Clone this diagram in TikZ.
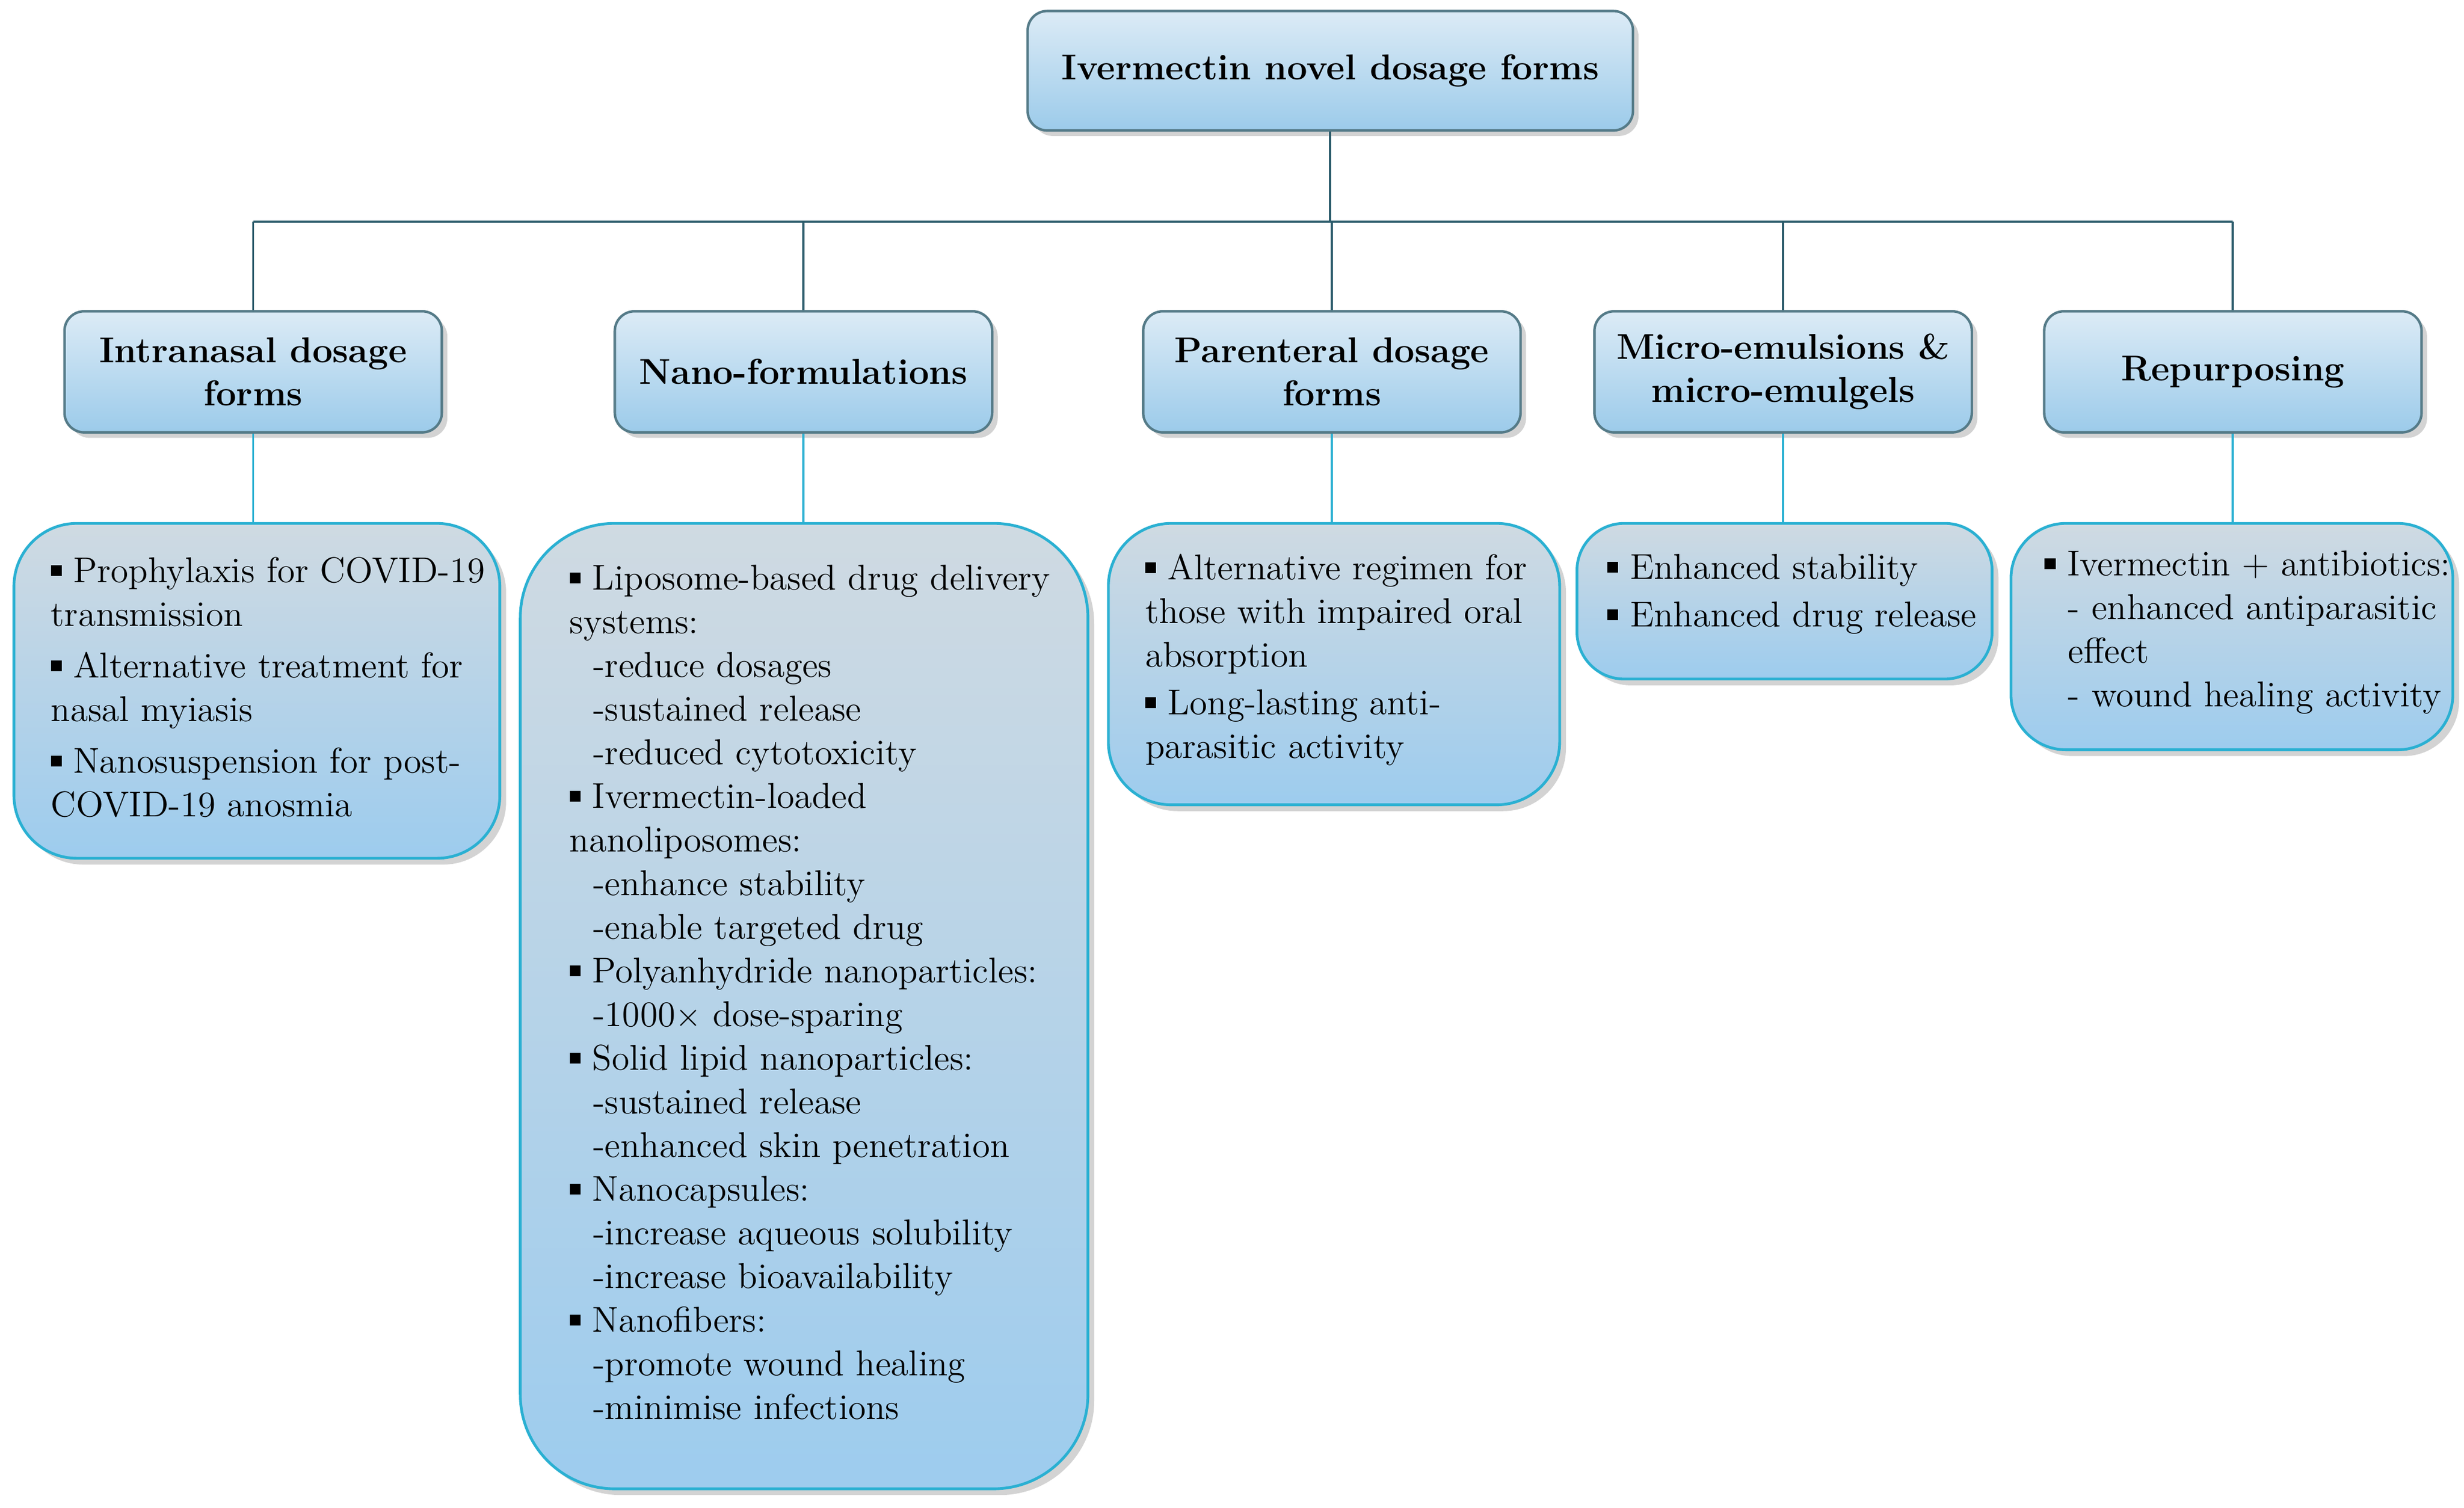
\documentclass[tikz,border=0pt]{standalone}
\usetikzlibrary{shadows,calc}
\definecolor{dk}{HTML}{2A5A6A}
\definecolor{cy}{HTML}{2AB0D2}
\definecolor{hdtop}{HTML}{DCEBF6}
\definecolor{hdbot}{HTML}{9CCBEA}
\definecolor{bxtop}{HTML}{CFDAE2}
\definecolor{bxbot}{HTML}{9DCCEE}
\newcommand{\bul}{\raisebox{0.18em}{\rule{0.3em}{0.3em}}\ }
\tikzset{
 hd/.style={draw=dk!80, line width=0.9pt, rounded corners=0.25cm, top color=hdtop, bottom color=hdbot,
   drop shadow={opacity=0.35, shadow xshift=0.07cm, shadow yshift=-0.07cm},
   align=center, font=\fontsize{13}{15.6}\selectfont\bfseries, inner sep=0pt},
 lvl/.style={hd, minimum width=4.8cm, minimum height=1.54cm},
 bx/.style={draw=cy, line width=1pt, top color=bxtop, bottom color=bxbot,
   drop shadow={opacity=0.35, shadow xshift=0.08cm, shadow yshift=-0.08cm}, inner sep=0pt},
 txt/.style={anchor=north west, align=left, inner sep=0pt, font=\fontsize{13}{15.8}\selectfont},
 ldk/.style={draw=dk, line width=0.8pt},
 lcy/.style={draw=cy, line width=0.8pt}
}
\begin{document}
\begin{tikzpicture}
\useasboundingbox (0,0) rectangle (31.34,-19.18);
\node[hd, minimum width=7.7cm, minimum height=1.52cm] (top) at (16.92,-0.90) {Ivermectin novel dosage forms};
\node[lvl] (l1) at (3.22,-4.73) {Intranasal dosage\\forms};
\node[lvl] (l2) at (10.22,-4.73) {Nano-formulations};
\node[lvl] (l3) at (16.94,-4.73) {Parenteral dosage\\forms};
\node[lvl] (l4) at (22.68,-4.73) {Micro-emulsions \&\\micro-emulgels};
\node[lvl] (l5) at (28.40,-4.73) {Repurposing};

\coordinate (h0) at (16.92,-2.82);
\coordinate (h1) at (l1.north |- h0);
\coordinate (h2) at (l2.north |- h0);
\coordinate (h3) at (l3.north |- h0);
\coordinate (h4) at (l4.north |- h0);
\coordinate (h5) at (l5.north |- h0);
\draw[ldk] (top.south) -- (h0);
\draw[ldk] (h1) -- (h5);
\foreach \i in {1,...,5} \draw[ldk] (h\i) -- (l\i.north);

\node[bx, rounded corners=0.8cm, minimum width=6.18cm, minimum height=4.26cm, anchor=north west] (b1) at (0.16,-6.64) {};
\node[bx, rounded corners=1.2cm, minimum width=7.22cm, minimum height=12.28cm, anchor=north west] (b2) at (6.60,-6.64) {};
\node[bx, rounded corners=0.8cm, minimum width=5.74cm, minimum height=3.58cm, anchor=north west] (b3) at (14.08,-6.64) {};
\node[bx, rounded corners=0.6cm, minimum width=5.28cm, minimum height=1.98cm, anchor=north west] (b4) at (20.04,-6.64) {};
\node[bx, rounded corners=0.7cm, minimum width=5.62cm, minimum height=2.88cm, anchor=north west] (b5) at (25.56,-6.64) {};
\foreach \i in {1,...,5} \draw[lcy] (l\i.south) -- (b\i.north -| l\i.south);

\node[txt] (t1) at ($(b1.north west)+(0.48,-0.44)$) {\bul Prophylaxis for COVID-19\\transmission\\[0.1cm]\bul Alternative treatment for\\nasal myiasis\\[0.1cm]\bul Nanosuspension for post-\\COVID-19 anosmia};
\node[txt] (t2) at ($(b2.north west)+(0.64,-0.54)$) {\bul Liposome-based drug delivery\\systems:\\\ \ -reduce dosages\\\ \ -sustained release\\\ \ -reduced cytotoxicity\\\bul Ivermectin-loaded\\nanoliposomes:\\\ \ -enhance stability\\\ \ -enable targeted drug\\\bul Polyanhydride nanoparticles:\\\ \ -1000$\times$ dose-sparing\\\bul Solid lipid nanoparticles:\\\ \ -sustained release\\\ \ -enhanced skin penetration\\\bul Nanocapsules:\\\ \ -increase aqueous solubility\\\ \ -increase bioavailability\\\bul Nanofibers:\\\ \ -promote wound healing\\\ \ -minimise infections};
\node[txt] (t3) at ($(b3.north west)+(0.48,-0.40)$) {\bul Alternative regimen for\\those with impaired oral\\absorption\\[0.05cm]\bul Long-lasting anti-\\parasitic activity};
\node[txt] (t4) at ($(b4.north west)+(0.40,-0.40)$) {\bul Enhanced stability\\[0.05cm]\bul Enhanced drug release};
\node[txt] (t5) at ($(b5.north west)+(0.44,-0.36)$) {\bul Ivermectin + antibiotics:\\\ \ - enhanced antiparasitic\\\ \ effect\\\ \ - wound healing activity};
\end{tikzpicture}
\end{document}
